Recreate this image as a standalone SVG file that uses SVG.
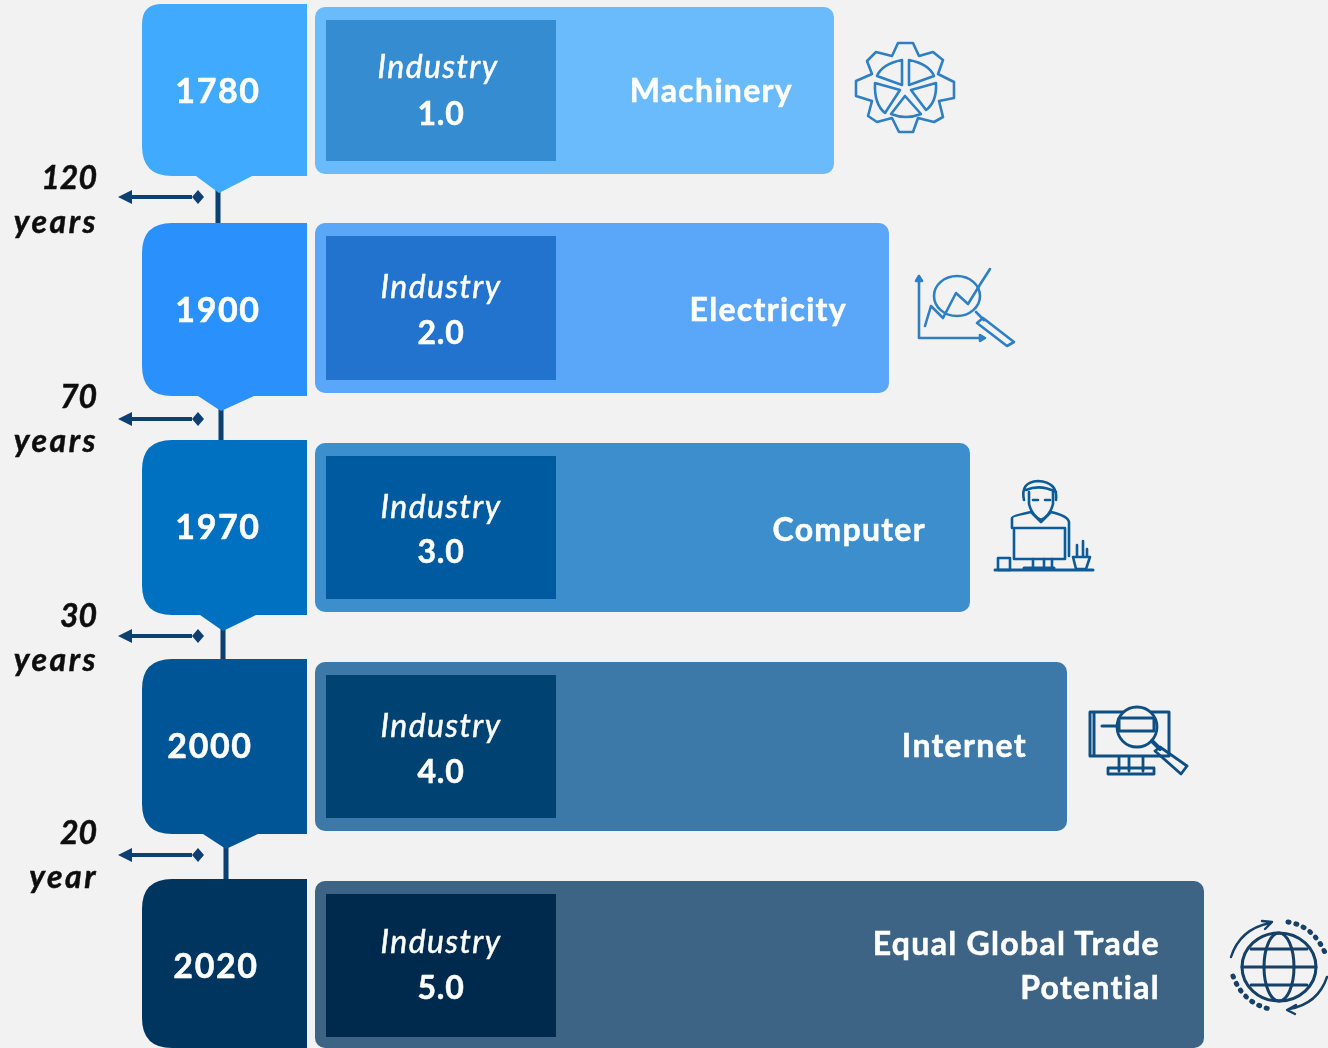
<svg xmlns="http://www.w3.org/2000/svg" width="1328" height="1048" viewBox="0 0 1328 1048">
<style>
text{font-family:"Lato","Open Sans","Liberation Sans",sans-serif;font-weight:700;fill:#fff;stroke:#fff;stroke-width:.5}
.yr{font-size:34px;text-anchor:middle;letter-spacing:1.6px}
.ind{font-size:32px;font-weight:400;font-style:italic;text-anchor:middle;letter-spacing:1.4px}
.num{font-size:32px;text-anchor:middle;letter-spacing:.7px}
.tech{font-size:32px;text-anchor:end;letter-spacing:1.3px}
.gap{font-size:32px;font-style:italic;font-weight:700;fill:#111;stroke:#111;text-anchor:end}
.wide{letter-spacing:2.5px}
.conn{stroke:#0A3F70;fill:none}
.dbl{marker-start:url(#tri);marker-end:url(#dia)}
.i{fill:none;stroke-linejoin:round;stroke-linecap:round}
.soft{filter:url(#soft)}
</style>
<defs>
<marker id="dia" markerUnits="userSpaceOnUse" markerWidth="13" markerHeight="14" viewBox="0 0 13 14" refX="0" refY="7" orient="0"><path d="M0 7 6 0 12 7 6 14Z" fill="#0A3F70"/></marker>
<marker id="tri" markerUnits="userSpaceOnUse" markerWidth="14" markerHeight="14" viewBox="0 0 14 14" refX="14" refY="7" orient="0"><path d="M0 7 14 0V14Z" fill="#0A3F70"/></marker>
<filter id="soft" filterUnits="userSpaceOnUse" x="0" y="0" width="1328" height="1048"><feGaussianBlur stdDeviation="0.6"/></filter>
</defs>
<rect width="1328" height="1048" fill="#f2f2f2"/>
<g id="connectors" class="soft">
<path class="conn" stroke-width="5" d="M218 188V223M221 406V440M223 625V659M226 844V879"/>
<path class="conn dbl" stroke-width="4" d="M132 197H192"/>
<path class="conn dbl" stroke-width="4" d="M132 419H192"/>
<path class="conn dbl" stroke-width="4" d="M132 636H192"/>
<path class="conn dbl" stroke-width="4" d="M132 855H192"/>
</g>
<g id="row1" class="soft">
<path fill="#3FAAFF" d="M162 4H307V176H252L219 193L196 176H172Q142 176 142 146V24Q142 4 162 4Z"/>
<rect x="315" y="7" width="519" height="167" rx="10" fill="#6BBBFB"/>
<rect x="326" y="20" width="230" height="141" fill="#368CD0"/>
<text class="yr" x="218" y="103">1780</text>
<text class="ind" x="438" y="78">Industry</text><text class="num" x="441" y="125">1.0</text>
<text class="tech" x="793" y="102">Machinery</text>
<g id="icon1" class="i" stroke="#2F7FC4" stroke-width="2.6">
<path d="M898 43H913L919 56 933 52 943 60 938 74 954 82V98L939 101 943 117 934 122 918 118 913 132H899L892 118 877 122 868 116 872 101 856 96V81L872 74 867 61 876 52 892 56Z"/>
<path d="M902 60V85L877 76Q882 64 902 60ZM909 60V85L934 76Q929 64 909 60ZM875 83 900 90 885 113Q874 104 875 83ZM936 83 911 90 926 110Q937 102 936 83ZM905 96 921 114Q906 120 891 114Z"/>
</g>
</g>
<g id="row2" class="soft">
<path fill="#2B90FB" d="M172 223H307V396H254L221 411L198 396H172Q142 396 142 366V253Q142 223 172 223Z"/>
<rect x="315" y="223" width="574" height="170" rx="10" fill="#5AA7F9"/>
<rect x="326" y="236" width="230" height="144" fill="#2273CE"/>
<text class="yr" x="218" y="322">1900</text>
<text class="ind" x="441" y="298">Industry</text><text class="num" x="441" y="344">2.0</text>
<text class="tech" x="847" y="321">Electricity</text>
<g id="icon2" class="i" stroke="#2F7FC4" stroke-width="2.6">
<path d="M919 276V338H985M919 276l-3 5h6zM985 338l-5-3v6z"/>
<ellipse cx="957" cy="296" rx="23" ry="20"/>
<path d="M925 326 931 306 943 318 956 293 968 304 981 283 990 269"/>
<path d="M976 312 984 320M983 318 1014 342 1007 346 977 323Z"/>
</g>
</g>
<g id="row3" class="soft">
<path fill="#0070C0" d="M172 440H307V615H256L223 631L200 615H172Q142 615 142 585V470Q142 440 172 440Z"/>
<rect x="315" y="443" width="655" height="169" rx="10" fill="#3D8ECD"/>
<rect x="326" y="456" width="230" height="143" fill="#025A9F"/>
<text class="yr" x="218" y="539">1970</text>
<text class="ind" x="441" y="518">Industry</text><text class="num" x="441" y="563">3.0</text>
<text class="tech" x="926" y="541">Computer</text>
<g id="icon3" class="i" stroke="#0F5C99" stroke-width="2.6">
<path d="M1024 500Q1020 482 1038 481Q1058 482 1056 500M1026 490Q1040 484 1056 492"/>
<path d="M1029 492V504Q1032 516 1041 520Q1050 516 1053 504V492M1033 500h5M1045 500h5"/>
<path d="M1012 528V518Q1012 516 1031 512L1041 522 1051 512Q1068 516 1069 522V556"/>
<rect x="1014" y="528" width="51" height="31"/>
<path d="M1033 559V568M1044 559V568M1052 559V568" />
<path d="M995 570H1093M1024 568H1054" stroke-width="3"/>
<rect x="998" y="558" width="12" height="12"/>
<path d="M1073 557H1090L1086 569H1076ZM1077 557V545M1083 557V541M1087 557V549"/>
</g>
</g>
<g id="row4" class="soft">
<path fill="#005596" d="M172 659H307V834H258L226 849L203 834H172Q142 834 142 804V689Q142 659 172 659Z"/>
<rect x="315" y="662" width="752" height="169" rx="10" fill="#3D79A8"/>
<rect x="326" y="675" width="230" height="143" fill="#014272"/>
<text class="yr" x="210" y="758">2000</text>
<text class="ind" x="441" y="737">Industry</text><text class="num" x="441" y="783">4.0</text>
<text class="tech" x="1027" y="757">Internet</text>
<g id="icon4" class="i" stroke="#0F4F85" stroke-width="2.8">
<path d="M1090 712H1169V756H1090ZM1094 712V756" stroke-width="3"/>
<circle cx="1137" cy="727" r="20" fill="#f2f2f2"/>
<path d="M1102 726H1119M1119 718H1154V731H1119Z" stroke-width="3"/>
<path d="M1119 757V771M1129 757V771M1143 757V771M1108 768H1154V774H1108Z"/>
<path d="M1152 741 1160 749" stroke-width="4"/><path d="M1160 747 1187 766 1181 774 1155 751Z"/>
</g>
</g>
<g id="row5" class="soft">
<path fill="#003561" d="M172 879H307V1048H172Q142 1048 142 1018V909Q142 879 172 879Z"/>
<rect x="315" y="881" width="889" height="167" rx="10" fill="#3D6485"/>
<rect x="326" y="894" width="230" height="143" fill="#002B4D"/>
<text class="yr" x="216" y="978">2020</text>
<text class="ind" x="441" y="953">Industry</text><text class="num" x="441" y="999">5.0</text>
<text class="tech" x="1160" y="955">Equal Global Trade</text>
<text class="tech" x="1160" y="999">Potential</text>
<g id="icon5" class="i" stroke="#123F68" stroke-width="3">
<ellipse cx="1279" cy="967" rx="37" ry="34"/>
<ellipse cx="1279" cy="967" rx="15" ry="34"/>
<path d="M1242 967H1316M1251 949H1307M1251 985H1307" />
<path d="M1231 957Q1240 929 1270 923M1262 921 1272 922 1265 929" stroke-width="2.4"/>
<path d="M1327 977Q1318 1004 1289 1009M1296 1005 1287 1010 1295 1014" stroke-width="2.4"/>
<path d="M1288 922Q1314 926 1326 955" stroke-width="5" stroke-dasharray="1 7"/>
<path d="M1233 976Q1243 1003 1270 1009" stroke-width="5" stroke-dasharray="1 7"/>
</g>
</g>
<g id="gaps" class="soft">
<text class="gap" x="97" y="189">120</text><text class="gap wide" x="98" y="233">years</text>
<text class="gap" x="97" y="408">70</text><text class="gap wide" x="98" y="452">years</text>
<text class="gap" x="97" y="627">30</text><text class="gap wide" x="98" y="671">years</text>
<text class="gap" x="97" y="844">20</text><text class="gap wide" x="98" y="888">year</text>
</g>
</svg>
